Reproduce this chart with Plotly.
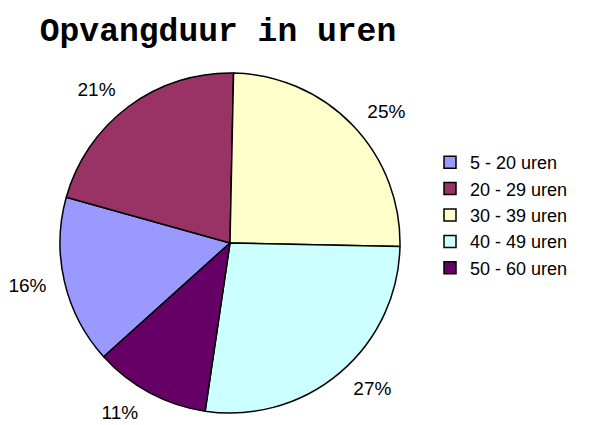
import plotly.graph_objects as go

categories = ["5 - 20 uren", "20 - 29 uren", "30 - 39 uren", "40 - 49 uren", "50 - 60 uren"]
values = [16, 21, 25, 27, 11]
colors = ["#9999FF", "#993366", "#FFFFCC", "#CCFFFF", "#660066"]
title_text = "Opvangduur in uren"

W, H = 590, 425
cx, cy, r = 222, 235, 170
r_lab = 183
rot = 228


def dom(rad):
    return dict(x=[(cx - rad) / W, (cx + rad) / W], y=[max(0, (H - cy - rad) / H), min(1, (H - cy + rad) / H)])


# invisible, slightly larger pie that only carries the percentage labels
label_pie = go.Pie(
    labels=categories,
    values=values,
    sort=False,
    direction="clockwise",
    rotation=rot,
    marker=dict(colors=["rgba(0,0,0,0)"] * len(values), line=dict(width=0)),
    textinfo="percent",
    texttemplate="%{percent:.0%}",
    textposition="outside",
    outsidetextfont=dict(family="Liberation Sans, Arial", size=19, color="black"),
    domain=dom(r_lab),
    showlegend=False,
    hoverinfo="skip",
    automargin=False,
)

main_pie = go.Pie(
    labels=categories,
    values=values,
    sort=False,
    direction="clockwise",
    rotation=rot,
    marker=dict(colors=colors, line=dict(color="black", width=1.5)),
    textinfo="none",
    domain=dom(r),
    hoverinfo="label+percent",
)

fig = go.Figure([label_pie, main_pie])

fig.update_layout(
    width=W, height=H,
    margin=dict(l=0, r=0, t=0, b=0, autoexpand=False),
    paper_bgcolor="white",
    plot_bgcolor="white",
    title=dict(text="<b>" + title_text + "</b>", x=210 / W, xanchor="center", y=1 - 21 / H, yanchor="middle",
               font=dict(family="Liberation Mono, Courier New", size=33, color="black")),
    legend=dict(x=422 / W, xanchor="left", y=1 - 136 / H, yanchor="top",
                font=dict(family="Liberation Sans, Arial", size=18, color="black"),
                bgcolor="rgba(0,0,0,0)", itemwidth=30),
)

fig.write_html("out.html")
